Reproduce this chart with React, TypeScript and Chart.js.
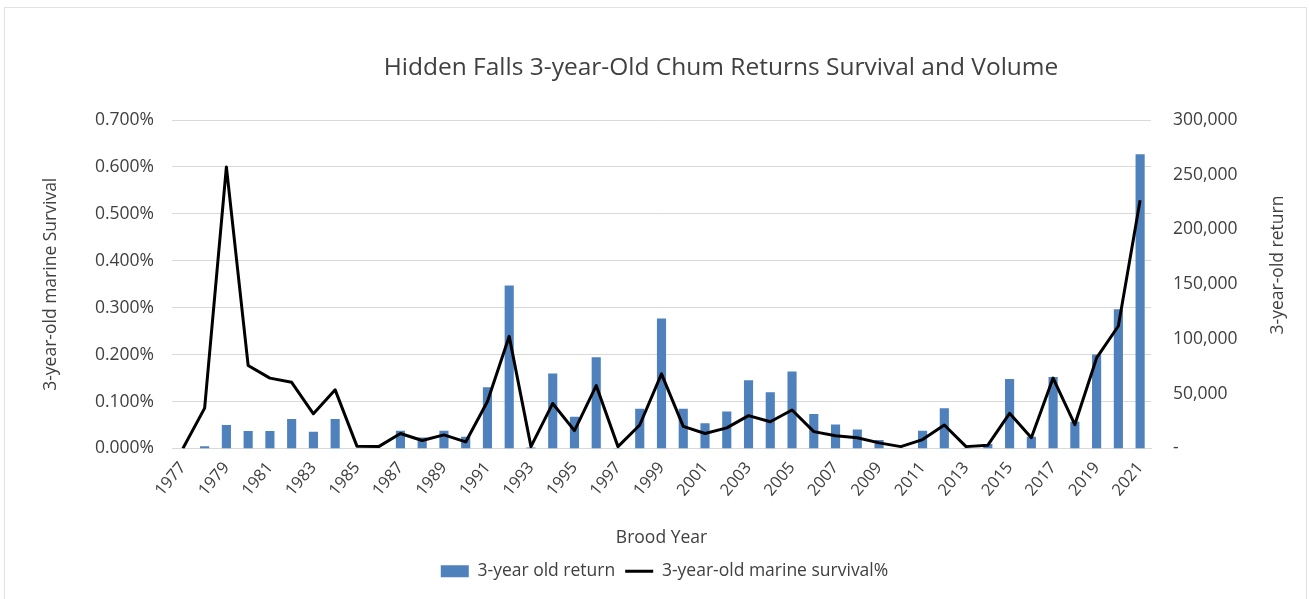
import React, { useEffect, useRef } from "react";
import { Chart, registerables } from "chart.js";

Chart.register(...registerables);

const TITLE = "Hidden Falls 3-year-Old Chum Returns Survival and Volume";
const X_TITLE = "Brood Year";
const LEFT_TITLE = "3-year-old marine Survival";
const RIGHT_TITLE = "3-year-old return";
const BAR_LABEL = "3-year old return";
const LINE_LABEL = "3-year-old marine survival%";

const broodYears = [
  "1977", "1978", "1979", "1980", "1981", "1982", "1983", "1984", "1985", "1986",
  "1987", "1988", "1989", "1990", "1991", "1992", "1993", "1994", "1995", "1996",
  "1997", "1998", "1999", "2000", "2001", "2002", "2003", "2004", "2005", "2006",
  "2007", "2008", "2009", "2010", "2011", "2012", "2013", "2014", "2015", "2016",
  "2017", "2018", "2019", "2020", "2021",
];

const returns3yr = [
  0, 2100, 21500, 16000, 16000, 27000, 15300, 27000, 0, 0,
  16200, 10100, 16200, 10700, 56000, 148800, 1000, 68600, 29100, 83300,
  500, 36200, 118800, 36200, 23000, 33700, 62400, 51400, 70400, 31600,
  22000, 17400, 7700, 0, 16200, 36700, 500, 4000, 63400, 10700,
  65200, 24500, 85800, 127100, 268800,
];

const survivalPct = [
  0.0, 0.086, 0.6, 0.177, 0.15, 0.141, 0.074, 0.125, 0.005, 0.004,
  0.032, 0.017, 0.029, 0.014, 0.1, 0.239, 0.004, 0.096, 0.038, 0.134,
  0.004, 0.05, 0.159, 0.047, 0.032, 0.044, 0.07, 0.057, 0.082, 0.036,
  0.027, 0.023, 0.012, 0.004, 0.019, 0.05, 0.004, 0.007, 0.075, 0.023,
  0.15, 0.051, 0.193, 0.261, 0.529,
];

const survivalTickLabels = ["0.000%", "0.100%", "0.200%", "0.300%", "0.400%", "0.500%", "0.600%", "0.700%"];
const returnTickLabels = ["-", "50,000", "100,000", "150,000", "200,000", "250,000", "300,000"];

const FONT = '"Open Sans", "Noto Sans", sans-serif';
const TEXT = "#404040";
const SIZE = 17.5;

const textPlugin = {
  id: "excelTexts",
  afterDraw(chart: any) {
    const ctx = chart.ctx;
    ctx.save();
    ctx.font = `24.5px ${FONT}`;
    ctx.fillStyle = TEXT;
    ctx.textAlign = "center";
    ctx.textBaseline = "middle";
    ctx.fillText(TITLE, 721, 68);
    // right axis title, reading bottom-to-top like the left one
    const s = chart.scales.y1;
    ctx.font = `${SIZE}px ${FONT}`;
    ctx.translate(s.right - 14, 265);
    ctx.rotate(-Math.PI / 2);
    ctx.fillText(RIGHT_TITLE, 0, 0);
    ctx.restore();
  },
};

export default function App() {
  const ref = useRef<HTMLCanvasElement | null>(null);

  useEffect(() => {
    document.body.style.margin = "0";
    if (!ref.current) return;
    const chart = new Chart(ref.current, {
      type: "bar",
      data: {
        labels: broodYears,
        datasets: [
          {
            type: "bar",
            label: BAR_LABEL,
            data: returns3yr,
            backgroundColor: "#4F81BD",
            borderWidth: 0,
            yAxisID: "y1",
            barPercentage: 0.42,
            categoryPercentage: 1,
            order: 2,
            pointStyle: "rect",
          } as any,
          {
            type: "line",
            label: LINE_LABEL,
            data: survivalPct,
            borderColor: "#000000",
            backgroundColor: "#000000",
            borderWidth: 3,
            borderJoinStyle: "round",
            pointRadius: 0,
            pointStyle: "line",
            tension: 0,
            yAxisID: "y",
            order: 1,
          } as any,
        ],
      },
      options: {
        animation: false,
        responsive: true,
        maintainAspectRatio: false,
        layout: { padding: { top: 120, left: 37, right: 17, bottom: 9 } },
        font: { family: FONT, size: SIZE },
        plugins: {
          title: { display: false },
          tooltip: { enabled: false },
          legend: {
            position: "bottom",
            labels: {
              usePointStyle: true,
              pointStyleWidth: 28,
              boxHeight: 12,
              color: TEXT,
              font: { family: FONT, size: SIZE },
              padding: 10,
              sort: (a: any, b: any) => a.datasetIndex - b.datasetIndex,
            },
          },
        },
        scales: {
          x: {
            grid: { display: false },
            border: { display: true, color: "#d9d9d9", width: 1 },
            ticks: {
              autoSkip: false,
              minRotation: 50,
              maxRotation: 50,
              color: TEXT,
              font: { family: FONT, size: 16.5 },
              padding: 2,
              callback: (_v: any, i: number) => (i % 2 === 0 ? broodYears[i] : ""),
            },
            title: {
              display: true,
              text: X_TITLE,
              color: TEXT,
              font: { family: FONT, size: SIZE },
            },
            afterFit: (s: any) => {
              s.height = 104;
            },
          },
          y: {
            position: "left",
            min: 0,
            max: 0.7,
            ticks: {
              stepSize: 0.1,
              color: TEXT,
              font: { family: FONT, size: SIZE },
              padding: 18,
              callback: (_v: any, i: number) => survivalTickLabels[i],
            },
            grid: { color: "#d9d9d9", drawTicks: false, lineWidth: 1 },
            border: { display: false },
            title: {
              display: true,
              text: LEFT_TITLE,
              color: TEXT,
              font: { family: FONT, size: SIZE },
            },
            afterFit: (s: any) => {
              s.width = 135;
            },
          },
          y1: {
            position: "right",
            min: 0,
            max: 300000,
            ticks: {
              stepSize: 50000,
              color: TEXT,
              font: { family: FONT, size: SIZE },
              padding: 22,
              callback: (_v: any, i: number) => returnTickLabels[i],
            },
            grid: { display: false, drawTicks: false },
            border: { display: false },
            title: { display: false },
            afterFit: (s: any) => {
              s.width = 141;
            },
          },
        },
      } as any,
      plugins: [textPlugin],
    });
    return () => chart.destroy();
  }, []);

  return (
    <div style={{ position: "relative", width: 1309, height: 599, background: "#ffffff", overflow: "hidden" }}>
      <div
        style={{
          position: "absolute",
          left: 4,
          top: 7,
          right: 2,
          bottom: -10,
          border: "1px solid #e2e2e2",
          pointerEvents: "none",
        }}
      />
      <canvas ref={ref} style={{ position: "relative" }} />
    </div>
  );
}
